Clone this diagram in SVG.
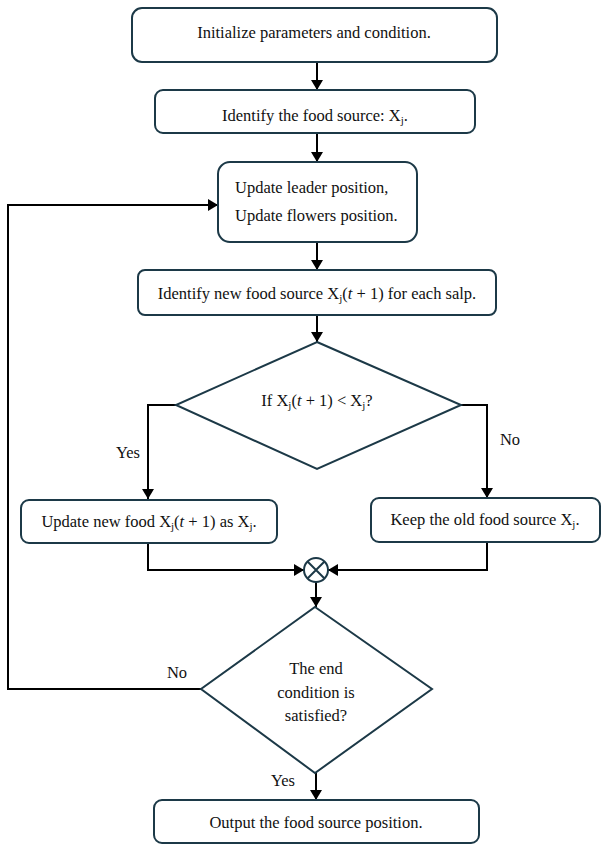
<svg xmlns="http://www.w3.org/2000/svg" width="602" height="846" viewBox="0 0 602 846">
  <style>
    .box { fill: #ffffff; stroke: #1c3947; stroke-width: 2; }
    .lbl { font-size: 16.5px; fill: #111111; }
    .mid { text-anchor: middle; }
    .sub { font-size: 11px; }
    .it { font-style: italic; }
    .wire { fill: none; stroke: #000000; stroke-width: 2; }
  </style>
  <defs>
    <marker id="arrow" markerUnits="userSpaceOnUse" markerWidth="12" markerHeight="12" refX="10" refY="6" orient="auto">
      <path d="M0,0 L10,6 L0,12 z" fill="#000000"/>
    </marker>
  </defs>

  <g font-family="Liberation Serif, Tinos, Times New Roman, serif">
  <g id="connectors">
    <line class="wire" x1="317" y1="62" x2="317" y2="90" marker-end="url(#arrow)"/>
    <line class="wire" x1="317" y1="133" x2="317" y2="162" marker-end="url(#arrow)"/>
    <line class="wire" x1="317" y1="242" x2="317" y2="270" marker-end="url(#arrow)"/>
    <line class="wire" x1="317" y1="315" x2="317" y2="342" marker-end="url(#arrow)"/>
    <polyline class="wire" points="176,405 148,405 148,499" marker-end="url(#arrow)"/>
    <polyline class="wire" points="461,405 487,405 487,498" marker-end="url(#arrow)"/>
    <polyline class="wire" points="148,543 148,570 304,570" marker-end="url(#arrow)"/>
    <polyline class="wire" points="487,542 487,570 328,570" marker-end="url(#arrow)"/>
    <line class="wire" x1="316" y1="582" x2="316" y2="607" marker-end="url(#arrow)"/>
    <polyline class="wire" points="201,689 8,689 8,205 218,205" marker-end="url(#arrow)"/>
    <line class="wire" x1="316" y1="773" x2="316" y2="800" marker-end="url(#arrow)"/>
    <text class="lbl mid" x="128" y="458">Yes</text>
    <text class="lbl mid" x="510" y="445">No</text>
    <text class="lbl mid" x="177" y="678">No</text>
    <text class="lbl mid" x="283" y="786">Yes</text>
  </g>

  <g id="init">
    <rect class="box" x="132" y="8" width="365" height="54" rx="10"/>
    <text class="lbl mid" x="314" y="38">Initialize parameters and condition.</text>
  </g>

  <g id="identify">
    <rect class="box" x="155" y="90" width="320" height="43" rx="8"/>
    <text class="lbl mid" x="315" y="121">Identify the food source: X<tspan class="sub" dy="3">j</tspan><tspan dy="-3">.</tspan></text>
  </g>

  <g id="update">
    <rect class="box" x="218" y="162" width="199" height="80" rx="12"/>
    <text class="lbl" x="235" y="193">Update leader position,</text>
    <text class="lbl" x="235" y="221">Update flowers position.</text>
  </g>

  <g id="new-source">
    <rect class="box" x="138" y="270" width="358" height="45" rx="7"/>
    <text class="lbl mid" x="317" y="299">Identify new food source X<tspan class="sub" dy="3">j</tspan><tspan dy="-3">(</tspan><tspan class="it">t</tspan> + 1) for each salp.</text>
  </g>

  <g id="compare">
    <polygon class="box" points="317,342 461,405 317,469 176,405"/>
    <text class="lbl mid" x="317" y="406">If X<tspan class="sub" dy="3">j</tspan><tspan dy="-3">(</tspan><tspan class="it">t</tspan> + 1) &lt; X<tspan class="sub" dy="3">j</tspan><tspan dy="-3">?</tspan></text>
  </g>

  <g id="accept">
    <rect class="box" x="21" y="500" width="256" height="43" rx="8"/>
    <text class="lbl mid" x="149" y="527">Update new food X<tspan class="sub" dy="3">j</tspan><tspan dy="-3">(</tspan><tspan class="it">t</tspan> + 1)  as X<tspan class="sub" dy="3">j</tspan><tspan dy="-3">.</tspan></text>
  </g>

  <g id="keep">
    <rect class="box" x="371" y="498" width="229" height="44" rx="8"/>
    <text class="lbl mid" x="485" y="525">Keep the old food source X<tspan class="sub" dy="3">j</tspan><tspan dy="-3">.</tspan></text>
  </g>

  <g id="merge">
    <circle class="box" cx="316" cy="570" r="12"/>
    <path d="M307.5,561.5 L324.5,578.5 M324.5,561.5 L307.5,578.5" stroke="#1c3947" stroke-width="2"/>
  </g>

  <g id="end-check">
    <polygon class="box" points="315,607 432,689 315,773 201,689"/>
    <text class="lbl mid" x="316" y="674">The end</text>
    <text class="lbl mid" x="316" y="698">condition is</text>
    <text class="lbl mid" x="316" y="721">satisfied?</text>
  </g>

  <g id="output">
    <rect class="box" x="154" y="800" width="325" height="43" rx="8"/>
    <text class="lbl mid" x="316" y="828">Output the food source position.</text>
  </g>
  </g>
</svg>
